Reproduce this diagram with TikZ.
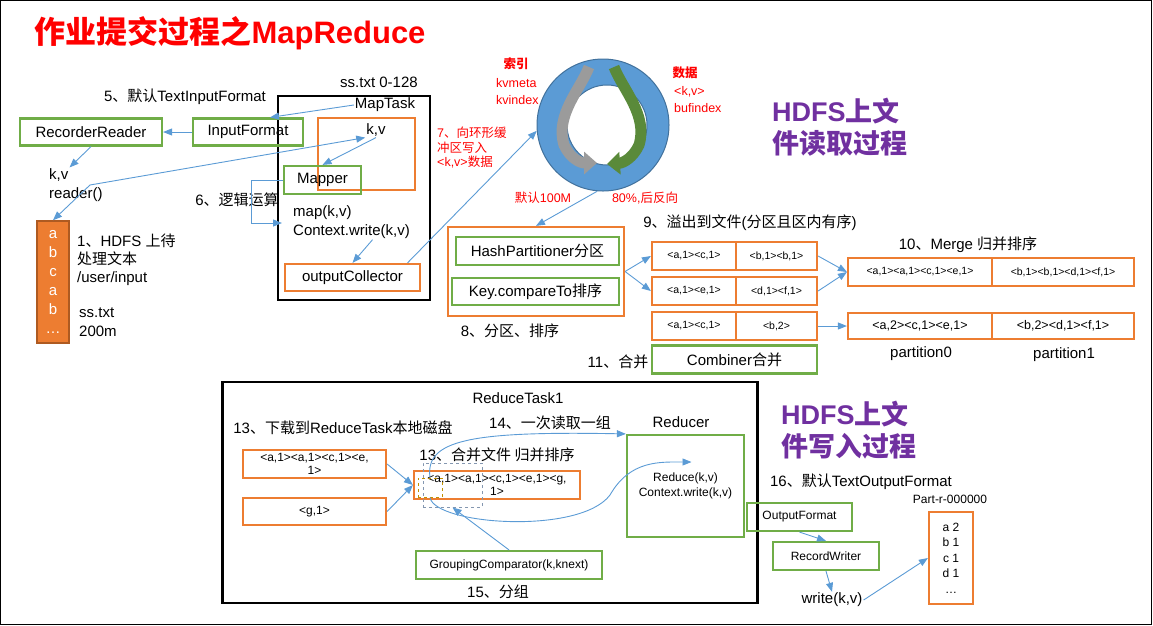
\documentclass[tikz,border=0pt]{standalone}
\usepackage{fontspec}
\setmainfont{Liberation Sans}
\newfontfamily\cjkfont{Noto Sans CJK SC}
\usepackage{xcolor}
\usepackage{tikz}
\usetikzlibrary{arrows.meta}
\definecolor{boxgreen}{HTML}{70AD47}
\definecolor{boxorange}{HTML}{ED7D31}
\definecolor{arrowblue}{HTML}{5B9BD5}
\definecolor{ringblue}{HTML}{5B9BD5}
\definecolor{ringedge}{HTML}{41719C}
\definecolor{ringgray}{HTML}{9B9B9B}
\definecolor{ringgreen}{HTML}{5A8A3A}
\definecolor{titlered}{HTML}{FF0000}
\definecolor{hdfspurple}{HTML}{7030A0}
\definecolor{filledge}{HTML}{AE5A21}
\definecolor{dashgray}{HTML}{8497B0}
\definecolor{dashgold}{HTML}{BF9000}
\newcommand{\zh}[1]{{\cjkfont #1}}

\begin{document}
\begin{tikzpicture}[x=1pt,y=-1pt,
  every node/.style={font=\fontsize{15}{18}\selectfont, inner sep=1pt},
  gbox/.style={draw=boxgreen, line width=2.2pt, minimum height=28, inner sep=0pt},
  obox/.style={draw=boxorange, line width=2.2pt, minimum height=28, inner sep=0pt},
  taskbox/.style={draw=black, line width=2.2pt},
  smalltxt/.style={font=\fontsize{12}{13.5}\selectfont},
  tinytxt/.style={font=\fontsize{10.5}{12}\selectfont},
  redtxt/.style={text=titlered, font=\fontsize{12.5}{14.5}\selectfont},
  purplelbl/.style={anchor=west, align=left, text=hdfspurple, font=\fontsize{27}{32}\selectfont\bfseries},
  arr/.style={draw=arrowblue, line width=0.9pt, -{Triangle[length=9pt,width=7pt]}}
]
  \useasboundingbox (0,0) rectangle (1153,625);
  \draw[line width=1pt] (0.5,0.5) rectangle (1151,624);

  \node[text=titlered, font=\fontsize{31}{37}\selectfont\bfseries] (title) at (230,33) {\zh{作业提交过程之}MapReduce};

  % map side
  \node (lbl5) at (185,97) {5\zh{、默认}TextInputFormat};
  \node[taskbox, minimum width=152, minimum height=204] (maptask) at (354,198) {};
  \node[gbox, minimum width=142, minimum height=27] (rr) at (91,132) {RecorderReader};
  \node[gbox, minimum width=110, minimum height=27] (inf) at (248,132) {InputFormat};
  \node (ss128) at (379,82) {ss.txt 0-128};
  \node (mtlbl) at (385,105) {MapTask};
  \node[obox, minimum width=97, minimum height=72] (kvbox) at (366.5,154) {};
  \node (kvlbl) at (376,130) {k,v};
  \node[gbox, minimum width=77] (mapper) at (322.5,180) {Mapper};
  \node[anchor=west, align=left, font=\fontsize{15}{19}\selectfont] (mapcode) at (292,222) {map(k,v)\\Context.write(k,v)};
  \node[obox, minimum width=135, minimum height=27] (oc) at (352.5,277.5) {outputCollector};
  \node (lbl6) at (237,200) {6\zh{、逻辑运算}};
  \coordinate (maploop) at (282,223);

  \node[anchor=west] (kvtxt) at (48,175) {k,v};
  \node[anchor=west] (rdtxt) at (48,195) {reader()};
  \coordinate (rj) at (90,185);
  \node[fill=boxorange, draw=filledge, line width=1.5pt, minimum width=32, minimum height=122,
        text=white, align=center, font=\fontsize{15}{19}\selectfont] (hdfsfile) at (53,282) {a\\b\\c\\a\\b\\…};
  \node[anchor=west, align=left] (hdfsnote) at (76,260) {1\zh{、}HDFS \zh{上待}\\\zh{处理文本}\\/user/input};
  \node[anchor=west, align=left, font=\fontsize{15}{19}\selectfont] (ssnote) at (78,322) {ss.txt\\200m};

  % ring buffer
  \node[circle, fill=ringblue, draw=ringedge, line width=1pt, minimum size=132] (ring) at (603,125) {};
  \node[circle, fill=white, draw=ringedge, line width=1pt, minimum size=80] (ringhole) at (607,125) {};
  \draw[line width=11pt, draw=ringgray, -{Triangle[length=13pt,width=22pt]}]
    (589,67) .. controls (580,90) and (555,115) .. (564,145) .. controls (570,158) and (580,163) .. (597,163);
  \draw[line width=11pt, draw=ringgreen, -{Triangle[length=13pt,width=22pt]}]
    (614,67) .. controls (623,90) and (648,115) .. (639,145) .. controls (633,158) and (623,163) .. (607,164);
  \node[redtxt, font=\fontsize{12.5}{14.5}\selectfont\bfseries] (idxlbl) at (516,64) {\zh{索引}};
  \node[redtxt, anchor=west, align=left, font=\fontsize{12.5}{17}\selectfont] (idxtxt) at (495,92) {kvmeta\\kvindex};
  \node[redtxt, font=\fontsize{12.5}{14.5}\selectfont\bfseries] (datlbl) at (685,73) {\zh{数据}};
  \node[redtxt, anchor=west, align=left, font=\fontsize{12.5}{17}\selectfont] (dattxt) at (673,100) {<k,v>\\bufindex};
  \node[redtxt, anchor=west, align=left] (lbl7) at (436,148) {7\zh{、向环形缓}\\\zh{冲区写入}\\<k,v>\zh{数据}};
  \node[redtxt] (lbl100m) at (543,198) {\zh{默认}100M};
  \node[redtxt] (lbl80) at (645,198) {80\%,\zh{后反向}};

  % partition and spill
  \node[obox, minimum width=176, minimum height=89] (partbox) at (536,271.5) {};
  \node[gbox, minimum width=163] (hp) at (537.5,251) {HashPartitioner\zh{分区}};
  \node[gbox, minimum width=167, minimum height=27] (kc) at (535.5,291.5) {Key.compareTo\zh{排序}};
  \node (lbl8) at (510,331) {8\zh{、分区、排序}};
  \node (lbl9) at (750,223) {9\zh{、溢出到文件}(\zh{分区且区内有序})};
  \node[obox, tinytxt, minimum width=84] (s1a) at (694,256) {<a,1><c,1>};
  \node[obox, tinytxt, minimum width=81] (s1b) at (776.5,256) {<b,1><b,1>};
  \node[obox, tinytxt, minimum width=84] (s2a) at (694,291) {<a,1><e,1>};
  \node[obox, tinytxt, minimum width=81] (s2b) at (776.5,291) {<d,1><f,1>};
  \node[obox, tinytxt, minimum width=84] (s3a) at (694,326) {<a,1><c,1>};
  \node[obox, tinytxt, minimum width=81] (s3b) at (776.5,326) {<b,2>};
  \node[gbox, minimum width=165] (comb) at (734.5,359.5) {Combiner\zh{合并}};
  \node (lbl11) at (618,362) {11\zh{、合并}};

  % merge
  \node (lbl10) at (968,245) {10\zh{、}Merge \zh{归并排序}};
  \node[obox, tinytxt, minimum width=144] (m1a) at (920,272) {<a,1><a,1><c,1><e,1>};
  \node[obox, tinytxt, minimum width=142] (m1b) at (1063,272) {<b,1><b,1><d,1><f,1>};
  \node[obox, font=\fontsize{12.5}{15}\selectfont, minimum width=144, minimum height=26] (m2a) at (920,326) {<a,2><c,1><e,1>};
  \node[obox, font=\fontsize{12.5}{15}\selectfont, minimum width=142, minimum height=26] (m2b) at (1063,326) {<b,2><d,1><f,1>};
  \node (p0) at (921,354) {partition0};
  \node (p1) at (1064,355) {partition1};

  \node[purplelbl] (hdfsread) at (771,127.5) {HDFS\zh{上文}\\\zh{件读取过程}};
  \node[purplelbl] (hdfswrite) at (780,430) {HDFS\zh{上文}\\\zh{件写入过程}};

  % reduce side
  \node[taskbox, minimum width=535, minimum height=221] (rtask) at (490,492.5) {};
  \node (rtlbl) at (518,398) {ReduceTask1};
  \node (lbl13a) at (343,428) {13\zh{、下载到}ReduceTask\zh{本地磁盘}};
  \node (lbl14) at (550,423) {14\zh{、一次读取一组}};
  \node (redlbl) at (681,422) {Reducer};
  \node[gbox, minimum width=117, minimum height=102, align=center, font=\fontsize{12}{15}\selectfont] (red) at (685.5,486) {Reduce(k,v)\\Context.write(k,v)};
  \node[obox, smalltxt, align=center, minimum width=143] (in1) at (314.5,464) {<a,1><a,1><c,1><e,\\1>};
  \node[obox, smalltxt, minimum width=143, minimum height=27] (in2) at (314.5,511.5) {<g,1>};
  \node (lbl13b) at (497,455) {13\zh{、合并文件 归并排序}};
  \node[obox, smalltxt, align=center, minimum width=166] (merged) at (497,485) {<a,1><a,1><c,1><e,1><g,\\1>};
  \node[draw=dashgray, dashed, line width=1pt, minimum width=59, minimum height=44] (dg) at (452.5,485) {};
  \node[draw=dashgold, dashed, line width=1pt, minimum width=24, minimum height=19] (dy) at (430,487.5) {};
  \node[gbox, smalltxt, minimum width=186] (gc) at (509,565) {GroupingComparator(k,knext)};
  \node (lbl15) at (498,592) {15\zh{、分组}};

  % output
  \node (lbl16) at (861,482) {16\zh{、默认}TextOutputFormat};
  \node[smalltxt] (partr) at (950,499) {Part-r-000000};
  \node[gbox, smalltxt, minimum width=105] (of) at (799.5,517) {OutputFormat};
  \node[gbox, smalltxt, minimum width=106] (rw) at (826,556) {RecordWriter};
  \node (wkv) at (832,600) {write(k,v)};
  \node[obox, align=center, minimum width=44, minimum height=92, font=\fontsize{12}{15.5}\selectfont] (outfile) at (951,558) {a 2\\b 1\\c 1\\d 1\\…};

  % connectors
  \draw[arr] (mtlbl.west) -- ([xshift=22pt]inf.north);
  \draw[arr] (inf.west) -- (rr.east);
  \draw[arr] (rr.south) -- (kvtxt.north east);
  \draw[arr] (rj) -- (hdfsfile.north);
  \draw[arr] (rj) -- (kvlbl.south west);
  \draw[arr] (kvlbl.south) -- (mapper.north);
  \draw[arr] (mapper.west) -- ++(-31,0) |- (maploop);
  \draw[arr] ([xshift=21pt]mapcode.south) -- (oc.north);
  \draw[arr] ([xshift=55pt]oc.north) -- (ring.185);
  \draw[arr] (ring.265) -- (partbox.north);
  \draw[arr] (partbox.east) -- (s1a.west);
  \draw[arr] (partbox.east) -- (s2a.west);
  \draw[arr] (s1b.east) -- (m1a.west);
  \draw[arr] (s2b.east) -- (m1a.west);
  \draw[arr] (s3b.east) -- (m2a.west);
  \draw[arr] (in1.east) -- (merged.west);
  \draw[arr] (in2.east) -- (merged.west);
  \draw[arr] (gc.north) -- (dg.south);
  \draw[arr] (dy.north) .. controls (425,440) and (470,431) .. (red.north west);
  \draw[arr] (dy.south) .. controls (435,525) and (580,535) .. (610,495)
             .. controls (630,460) and (660,462) .. ([shift={(6,-24)}]red.center);
  \draw[arr] (of.south) -- (rw.north);
  \draw[arr] (rw.south) -- (wkv.north);
  \draw[arr] (wkv.east) -- (outfile.west);
\end{tikzpicture}
\end{document}
